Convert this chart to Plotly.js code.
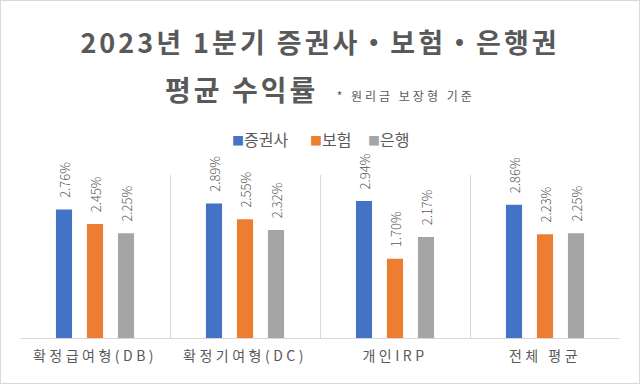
<!DOCTYPE html>
<html>
<head>
<meta charset="utf-8">
<script src="https://cdn.plot.ly/plotly-3.0.1.min.js"></script>
<style>
  html, body { margin: 0; padding: 0; background: #fff; }
  #wrap { width: 640px; height: 384px; box-sizing: border-box; border: 1px solid #d9d9d9; overflow: hidden; }
  #chart { width: 638px; height: 382px; }
  .xtick text { letter-spacing: 3.5px; }
  .gtitle { letter-spacing: 3px; }
  .subtitle-ann .annotation-text { letter-spacing: 3px; }
</style>
</head>
<body>
<div id="wrap"><div id="chart"></div></div>
<script>
const categories = ["확정급여형(DB)", "확정기여형(DC)", "개인IRP", "전체 평균"];
const seriesNames = ["증권사", "보험", "은행"];
const securities = [2.76, 2.89, 2.94, 2.86];
const insurance = [2.45, 2.55, 1.70, 2.23];
const banks = [2.25, 2.32, 2.17, 2.25];
const colors = ["#4472C4", "#ED7D31", "#A5A5A5"];

const labelFont = { family: "Noto Sans CJK KR, Noto Sans, sans-serif", size: 13, color: "#595959", weight: 300 };
const values = [securities, insurance, banks];

const traces = values.map((v, i) => ({
  type: "bar",
  name: seriesNames[i],
  x: categories,
  y: v,
  marker: { color: colors[i] },
  text: v.map(n => "\u00a0\u00a0\u00a0" + n.toFixed(2) + "%"),
  textposition: "outside",
  textangle: -90,
  textfont: labelFont,
  constraintext: "none",
  cliponaxis: false,
  hoverinfo: "skip",
  showlegend: false
}));

// hand-made legend (Excel style: small square right before the name)
const legendPos = [0.35, 0.48, 0.577];
const legendAnns = seriesNames.map((n, i) => ({
  text: "<span style='color:" + colors[i] + ";font-size:12px'>■</span>" + n,
  xref: "paper", yref: "paper",
  x: legendPos[i], xanchor: "left",
  y: 1.22, yanchor: "middle",
  showarrow: false,
  font: { family: "Noto Sans CJK KR, sans-serif", size: 16, color: "#595959" }
}));

const layout = {
  width: 638,
  height: 382,
  margin: { l: 19, r: 19, t: 174, b: 45 },
  paper_bgcolor: "#ffffff",
  plot_bgcolor: "#ffffff",
  barmode: "group",
  bargap: 0.38,
  bargroupgap: 0.48,
  showlegend: false,
  title: {
    text: "<b>2023년 1분기 증권사・보험・은행권</b>",
    x: 0.5, xanchor: "center",
    y: 0.888, yanchor: "middle",
    yref: "container",
    font: { family: "Noto Sans CJK KR, sans-serif", size: 27, color: "#595959" }
  },
  annotations: [{
    text: "<b>평균 수익률</b>  <span style='font-size:12px'>* 원리금 보장형 기준</span>",
    xref: "paper", yref: "paper",
    x: 0.5, xanchor: "center",
    y: 1.53, yanchor: "middle",
    showarrow: false,
    font: { family: "Noto Sans CJK KR, sans-serif", size: 28, color: "#595959" }
  }].concat(legendAnns),
  xaxis: {
    type: "category",
    range: [-0.5, 3.5],
    tickson: "boundaries",
    ticks: "",
    showgrid: true,
    gridcolor: "#d9d9d9",
    gridwidth: 1,
    showline: true,
    linecolor: "#d9d9d9",
    linewidth: 1,
    tickfont: { family: "Noto Sans CJK KR, sans-serif", size: 14, color: "#595959" },
    ticklabelstandoff: 5,
    fixedrange: true
  },
  yaxis: {
    range: [0, 3.5],
    visible: false,
    showgrid: false,
    zeroline: false,
    fixedrange: true
  }
};

Plotly.newPlot("chart", traces, layout, { displayModeBar: false, staticPlot: true }).then(gd => {
  const anns = gd.querySelectorAll(".annotation");
  if (anns[0]) anns[0].classList.add("subtitle-ann");
});
</script>
</body>
</html>
